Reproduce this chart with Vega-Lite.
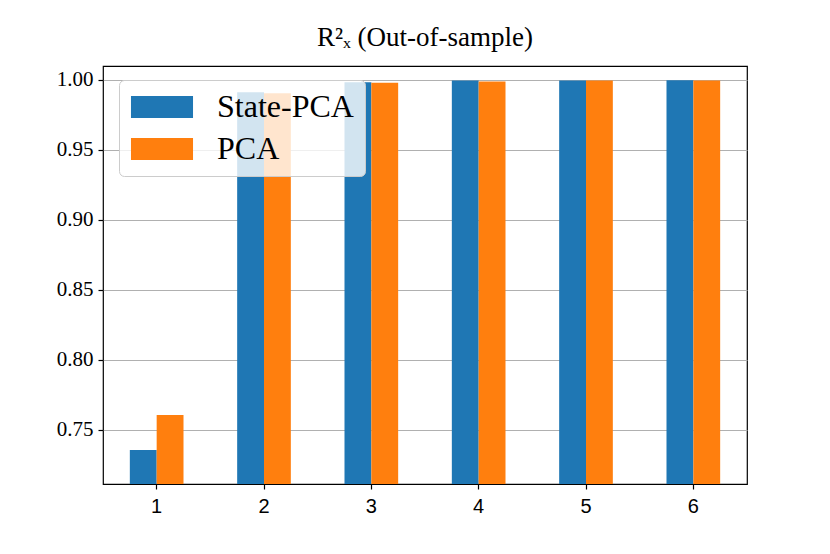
{
  "$schema": "https://vega.github.io/schema/vega-lite/v6.json",
  "description": "R2_X out-of-sample, State-PCA vs PCA by number of components",
  "width": 644,
  "height": 418,
  "autosize": {"type": "none"},
  "padding": {"left": 103, "top": 66, "right": 83, "bottom": 70},
  "title": {
    "text": "R²ₓ (Out-of-sample)",
    "font": "Liberation Serif",
    "fontSize": 27,
    "fontWeight": "normal",
    "color": "black",
    "anchor": "middle",
    "offset": 14
  },
  "data": {
    "values": [
      {"k": 1, "method": "State-PCA", "r2": 0.7357},
      {"k": 1, "method": "PCA", "r2": 0.7607},
      {"k": 2, "method": "State-PCA", "r2": 0.9912},
      {"k": 2, "method": "PCA", "r2": 0.9905},
      {"k": 3, "method": "State-PCA", "r2": 0.9984},
      {"k": 3, "method": "PCA", "r2": 0.998},
      {"k": 4, "method": "State-PCA", "r2": 0.9996},
      {"k": 4, "method": "PCA", "r2": 0.9989},
      {"k": 5, "method": "State-PCA", "r2": 0.9997},
      {"k": 5, "method": "PCA", "r2": 0.9996},
      {"k": 6, "method": "State-PCA", "r2": 0.9998},
      {"k": 6, "method": "PCA", "r2": 0.9997}
    ]
  },
  "mark": {"type": "bar", "clip": true},
  "encoding": {
    "x": {
      "field": "k",
      "type": "ordinal",
      "scale": {"paddingInner": 0.5, "paddingOuter": 0.25},
      "axis": {
        "title": null,
        "labelAngle": 0,
        "labelFont": "Liberation Sans",
        "labelFontSize": 20,
        "labelColor": "black",
        "labelPadding": 7,
        "tickColor": "black",
        "tickSize": 5,
        "tickWidth": 1.2,
        "domain": false,
        "grid": false
      }
    },
    "xOffset": {
      "field": "method",
      "type": "nominal",
      "sort": ["State-PCA", "PCA"],
      "scale": {"paddingInner": 0, "paddingOuter": 0}
    },
    "y": {
      "field": "r2",
      "type": "quantitative",
      "scale": {"domain": [0.7114, 1.01], "zero": false, "nice": false},
      "axis": {
        "title": null,
        "values": [0.75, 0.8, 0.85, 0.9, 0.95, 1.0],
        "format": ".2f",
        "labelFont": "Liberation Serif",
        "labelFontSize": 21,
        "labelColor": "black",
        "labelPadding": 5,
        "tickColor": "black",
        "tickSize": 5,
        "tickWidth": 1.2,
        "domain": false,
        "grid": true,
        "gridColor": "#b0b0b0",
        "gridWidth": 1.2
      }
    },
    "color": {
      "field": "method",
      "type": "nominal",
      "scale": {"domain": ["State-PCA", "PCA"], "range": ["#1f77b4", "#ff7f0e"]},
      "legend": {
        "title": null,
        "orient": "none",
        "legendX": 16,
        "legendY": 14,
        "symbolType": "M-2.82,-1H2.82V1H-2.82Z",
        "symbolSize": 484,
        "symbolOffset": 16,
        "symbolStrokeWidth": 0,
        "symbolOpacity": 1,
        "labelFont": "Liberation Serif",
        "labelFontSize": 32,
        "labelColor": "black",
        "labelOffset": 39,
        "labelLimit": 300,
        "rowPadding": 10,
        "padding": 11,
        "fillColor": "rgba(255,255,255,0.8)",
        "strokeColor": "#cccccc",
        "cornerRadius": 5
      }
    }
  },
  "config": {
    "view": {"stroke": "black", "strokeWidth": 1.2},
    "background": "white"
  }
}
